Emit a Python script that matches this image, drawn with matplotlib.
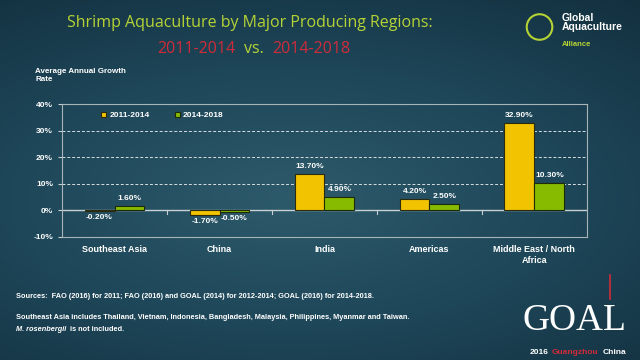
import numpy as np
import matplotlib.pyplot as plt
from matplotlib.colors import LinearSegmentedColormap
from matplotlib.patches import Ellipse

# Data
regions = ["Southeast Asia", "China", "India", "Americas", "Middle East / North\nAfrica"]
growth_2011_2014 = [-0.20, -1.70, 13.70, 4.20, 32.90]
growth_2014_2018 = [1.60, -0.50, 4.90, 2.50, 10.30]
series_names = ["2011-2014", "2014-2018"]
y_ticks = [-10, 0, 10, 20, 30, 40]

plt.rcParams["font.family"] = ["Liberation Sans", "DejaVu Sans"]

fig = plt.figure(figsize=(6.4, 3.6), dpi=100)

# Slide background: dark teal with a lighter centre
bg = fig.add_axes([0, 0, 1, 1], zorder=-10)
yy, xx = np.mgrid[0:1:200j, 0:1:360j]
dist = np.sqrt(((xx - 0.45) / 1.1) ** 2 + ((yy - 0.45) / 0.9) ** 2)
cmap_bg = LinearSegmentedColormap.from_list("bg", ["#2d5a6b", "#1e4759", "#13303f"])
bg.imshow(dist, cmap=cmap_bg, aspect="auto", extent=[0, 1, 0, 1], origin="lower")
bg.axis("off")

# Titles
title_font = ["Open Sans", "DejaVu Sans"]
fig.text(0.39, 0.935, "Shrimp Aquaculture by Major Producing Regions:", color="#b6d335",
         fontsize=11.5, family=title_font, ha="center", va="center")
fig.text(0.367, 0.865, "2011-2014", color="#d12b3a", fontsize=11.5,
         family=title_font, ha="right", va="center")
fig.text(0.397, 0.865, "vs.", color="#b6d335", fontsize=11.5,
         family=title_font, ha="center", va="center")
fig.text(0.425, 0.865, "2014-2018", color="#d12b3a", fontsize=11.5,
         family=title_font, ha="left", va="center")

# Logo (top right)
fig.text(0.878, 0.965, "Global\nAquaculture", color="white", fontsize=7.5, weight="bold",
         ha="left", va="top", linespacing=0.95)
fig.text(0.878, 0.885, "Alliance", color="#b6d335", fontsize=5.5, weight="bold", ha="left", va="top")
fig.add_artist(Ellipse((0.843, 0.925), 0.04, 0.071, transform=fig.transFigure, fill=False,
                       ec="#b6d335", lw=1.5))

# Chart
ax = fig.add_axes([0.097, 0.342, 0.820, 0.369])
ax.set_facecolor("none")
x = np.arange(len(regions))
w = 0.285
gold = "#f2c300"
green = "#86bb00"
b1 = ax.bar(x - w / 2, growth_2011_2014, w, color=gold, edgecolor="#2b2b10", lw=0.8,
            label=series_names[0], zorder=3)
b2 = ax.bar(x + w / 2, growth_2014_2018, w, color=green, edgecolor="#1f2a08", lw=0.8,
            label=series_names[1], zorder=3)

for bars, vals in ((b1, growth_2011_2014), (b2, growth_2014_2018)):
    for rect, v in zip(bars, vals):
        cx = rect.get_x() + rect.get_width() / 2
        if v >= 0:
            ax.text(cx, v + 1.5, f"{v:.2f}%", color="white", fontsize=6, weight="bold",
                    ha="center", va="bottom")
        else:
            ax.text(cx, v - 1.2, f"{v:.2f}%", color="white", fontsize=6, weight="bold",
                    ha="center", va="top")

ax.set_xlim(-0.5, len(regions) - 0.5)
ax.set_ylim(-10, 40)
ax.set_yticks(y_ticks)
ax.set_yticklabels([f"{t}%" for t in y_ticks])
ax.set_xticks(x)
ax.set_xticklabels(regions)
ax.tick_params(axis="x", length=0, pad=6, colors="white", labelsize=6.5)
ax.tick_params(axis="y", length=3, colors="#c8d0d4", labelcolor="white", labelsize=6)
for lbl in ax.get_xticklabels() + ax.get_yticklabels():
    lbl.set_fontweight("bold")
for t in (10, 20, 30):
    ax.axhline(t, color="#d8dee0", ls=(0, (3, 2)), lw=0.7, zorder=1)
ax.axhline(0, color="#c8d0d4", lw=1, zorder=2)
for b in np.arange(0.5, len(regions) - 0.5):
    ax.plot([b, b], [0, -1.2], color="#c8d0d4", lw=0.8, zorder=2)
for s in ax.spines.values():
    s.set_color("#a9b4b9")
    s.set_linewidth(0.8)

leg = ax.legend(loc="upper left", bbox_to_anchor=(0.06, 1.0), ncol=2, frameon=False,
                fontsize=6, handlelength=0.6, handleheight=0.6, columnspacing=3,
                handletextpad=0.4)
for t in leg.get_texts():
    t.set_color("white")
    t.set_fontweight("bold")

fig.text(0.055, 0.77, "Average Annual Growth\nRate", color="white", fontsize=5.8,
         weight="bold", ha="left", va="bottom", linespacing=1.1)

# Footnotes
fig.text(0.025, 0.175, "Sources:  FAO (2016) for 2011; FAO (2016) and GOAL (2014) for 2012-2014; "
         "GOAL (2016) for 2014-2018.", color="white", fontsize=5.3, weight="bold", va="center")
fig.text(0.025, 0.118, "Southeast Asia includes Thailand, Vietnam, Indonesia, Bangladesh, Malaysia, "
         "Philippines, Myanmar and Taiwan.", color="white", fontsize=5.3, weight="bold", va="center")
fig.text(0.025, 0.085, "M. rosenbergii", color="white", fontsize=5.3, weight="bold",
         style="italic", va="center")
fig.text(0.11, 0.085, "is not included.", color="white", fontsize=5.3, weight="bold", va="center")

# GOAL branding (bottom right)
fig.text(0.898, 0.11, "GOAL", color="white", fontsize=27,
         family=["Liberation Serif", "DejaVu Serif"], ha="center", va="center")
fig.add_artist(plt.Line2D([0.953, 0.953], [0.17, 0.235], transform=fig.transFigure,
                          color="#d12b3a", lw=1.2))
fig.text(0.828, 0.022, "2016", color="white", fontsize=6, weight="bold", ha="left", va="center")
fig.text(0.862, 0.022, "Guangzhou", color="#d12b3a", fontsize=6, weight="bold", ha="left", va="center")
fig.text(0.942, 0.022, "China", color="white", fontsize=6, weight="bold", ha="left", va="center")

fig.savefig("out.png", dpi=100)
